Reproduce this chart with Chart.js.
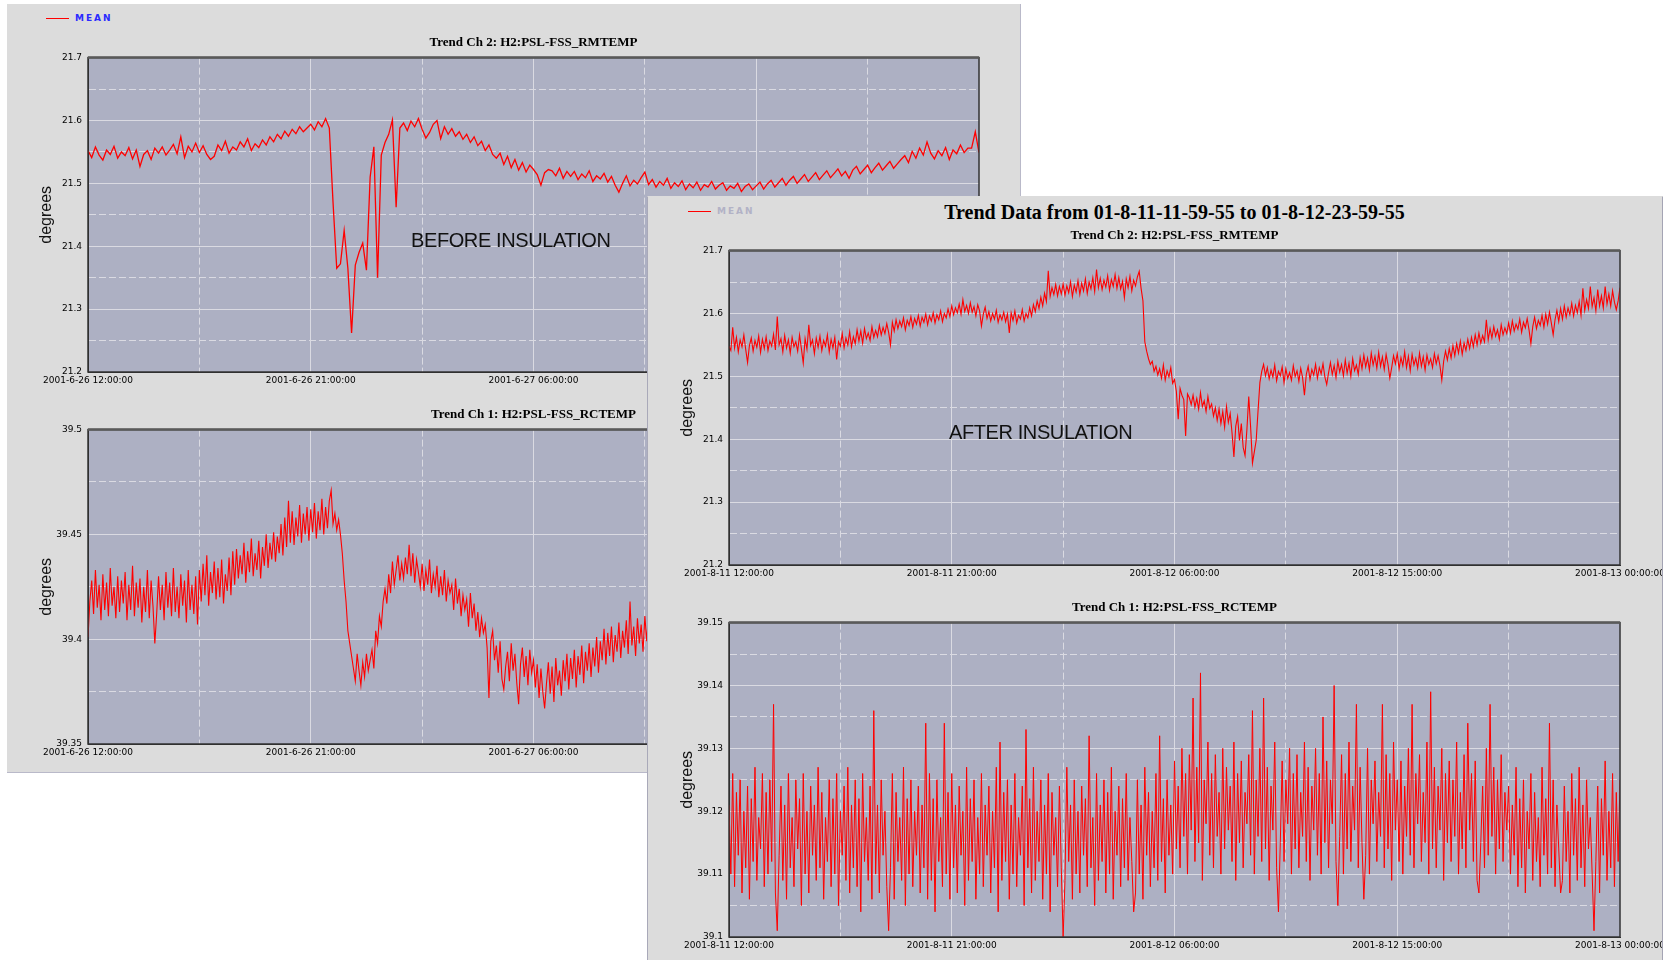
<!DOCTYPE html>
<html>
<head>
<meta charset="utf-8">
<script src="https://cdn.jsdelivr.net/npm/chart.js@4.4.1/dist/chart.umd.min.js"></script>
<style>
html, body { margin: 0; padding: 0; background: #fff; width: 1663px; height: 960px; overflow: hidden; }
.panel { position: absolute; background: #dcdcdc; overflow: hidden; }
#back { left: 7px; top: 4px; width: 1013px; height: 768px; border-right: 1px solid #b9b9c9; border-bottom: 1px solid #b9b9c9; }
#front { left: 647px; top: 196px; width: 1014px; height: 764px; border-left: 1px solid #a9a9b9; border-right: 2px solid #a4a4b4; border-top: 1px solid #dcdcdc; }
.panel canvas { position: absolute; left: 0; }
.top { top: 20px; }
.bot { top: 392px; }
.legend { position: absolute; left: 39px; top: 9px; height: 12px; padding-left: 29px; line-height: 12px; font: bold 9px "DejaVu Sans"; letter-spacing: 2px; }
.legend i { position: absolute; left: 0; top: 5px; width: 23px; height: 1px; background: #f00; }
.note { position: absolute; font: 20px "Liberation Sans"; line-height: 23px; letter-spacing: -0.4px; color: #111; }
.main { position: absolute; left: 81px; width: 891px; top: 4px; line-height: 23px; text-align: center; font: bold 20px "Liberation Serif"; color: #000; }
</style>
</head>
<body>
<div class="panel" id="back">
  <div class="legend" style="color:#2a2aff"><i></i>MEAN</div>
  <canvas id="bTop" class="top" width="1040" height="368"></canvas>
  <canvas id="bBot" class="bot" width="1040" height="368"></canvas>
  <div class="note" style="left:404px;top:225px">BEFORE INSULATION</div>
</div>
<div class="panel" id="front">
  <div class="legend" style="color:#b2b2c6;left:40px"><i></i>MEAN</div>
  <div class="main">Trend Data from 01-8-11-11-59-55 to 01-8-12-23-59-55</div>
  <canvas id="fTop" class="top" width="1040" height="368"></canvas>
  <canvas id="fBot" class="bot" width="1040" height="368"></canvas>
  <div class="note" style="left:301px;top:224px">AFTER INSULATION</div>
</div>
<script>
// hours between samples, 36 hour window
const STEP_H = 0.15;
const STEP_FINE_H = 0.075;
const SPAN_H = 36;

const beforeTimes = ['2001-6-26 12:00:00', '2001-6-26 21:00:00', '2001-6-27 06:00:00', '2001-6-27 15:00:00', '2001-6-28 00:00:00'];
const afterTimes = ['2001-8-11 12:00:00', '2001-8-11 21:00:00', '2001-8-12 06:00:00', '2001-8-12 15:00:00', '2001-8-13 00:00:00'];

// Ch 2 RMTEMP, before insulation (June), STEP_H
const rmBefore = [
  21.552, 21.541, 21.558, 21.545, 21.537, 21.553, 21.546, 21.559, 21.540, 21.550,
  21.544, 21.557, 21.539, 21.553, 21.527, 21.546, 21.552, 21.538, 21.556, 21.548,
  21.558, 21.545, 21.553, 21.562, 21.547, 21.574, 21.541, 21.559, 21.550, 21.564,
  21.549, 21.560, 21.546, 21.538, 21.543, 21.561, 21.552, 21.567, 21.548, 21.558,
  21.553, 21.566, 21.558, 21.571, 21.552, 21.563, 21.557, 21.569, 21.561, 21.574,
  21.566, 21.578, 21.571, 21.583, 21.575, 21.586, 21.579, 21.590, 21.582, 21.588,
  21.594, 21.585, 21.598, 21.590, 21.603, 21.588, 21.470, 21.365, 21.372, 21.425,
  21.365, 21.262, 21.370, 21.390, 21.405, 21.362, 21.510, 21.558, 21.350, 21.545,
  21.565, 21.578, 21.601, 21.462, 21.588, 21.596, 21.584, 21.599, 21.590, 21.603,
  21.586, 21.572, 21.581, 21.594, 21.600, 21.571, 21.590, 21.578, 21.587, 21.575,
  21.582, 21.570, 21.578, 21.565, 21.574, 21.560, 21.567, 21.552, 21.561, 21.546,
  21.540, 21.548, 21.530, 21.543, 21.525, 21.538, 21.521, 21.533, 21.518, 21.529,
  21.522, 21.514, 21.497, 21.517, 21.522, 21.520, 21.512, 21.524, 21.508, 21.519,
  21.511, 21.519, 21.506, 21.515, 21.509, 21.520, 21.503, 21.512, 21.507, 21.516,
  21.502, 21.511, 21.497, 21.486, 21.500, 21.512, 21.496, 21.505, 21.499, 21.509,
  21.518, 21.498, 21.506, 21.494, 21.503, 21.497, 21.508, 21.492, 21.501, 21.495,
  21.504, 21.490, 21.499, 21.493, 21.502, 21.489, 21.498, 21.494, 21.503, 21.491,
  21.497, 21.501, 21.489, 21.496, 21.492, 21.500, 21.487, 21.495, 21.499, 21.490,
  21.496, 21.502, 21.491, 21.499, 21.505, 21.494, 21.501, 21.508, 21.497, 21.505,
  21.511, 21.500, 21.507, 21.514, 21.503, 21.510, 21.517, 21.506, 21.513, 21.520,
  21.509, 21.516, 21.523, 21.512, 21.519, 21.508, 21.521, 21.527, 21.515, 21.522,
  21.529, 21.517, 21.525, 21.532, 21.521, 21.528, 21.535, 21.524, 21.531, 21.538,
  21.544, 21.533, 21.551, 21.540, 21.556, 21.545, 21.566, 21.548, 21.539, 21.552,
  21.544, 21.557, 21.538, 21.553, 21.547, 21.561, 21.549, 21.556, 21.556, 21.582,
  21.549
];

// Ch 1 RCTEMP, before insulation, STEP_FINE_H (only the uncovered part is read)
const rcBefore = [
  39.401, 39.418, 39.428, 39.412, 39.433, 39.415, 39.426, 39.409, 39.431, 39.414,
  39.427, 39.411, 39.434, 39.416, 39.425, 39.410, 39.430, 39.413, 39.428, 39.417,
  39.432, 39.409, 39.426, 39.414, 39.435, 39.411, 39.427, 39.415, 39.429, 39.408,
  39.425, 39.413, 39.433, 39.410, 39.428, 39.416, 39.398, 39.412, 39.430, 39.414,
  39.426, 39.409, 39.432, 39.415, 39.427, 39.411, 39.434, 39.413, 39.425, 39.410,
  39.431, 39.416, 39.428, 39.408, 39.433, 39.414, 39.426, 39.412, 39.430, 39.407,
  39.433, 39.418, 39.436, 39.421, 39.440, 39.416, 39.432, 39.422, 39.437, 39.419,
  39.434, 39.420, 39.438, 39.417, 39.431, 39.423, 39.439, 39.421, 39.442, 39.426,
  39.443, 39.429, 39.440, 39.431, 39.446, 39.427, 39.442, 39.432, 39.448, 39.430,
  39.441, 39.433, 39.447, 39.429, 39.444, 39.435, 39.450, 39.434, 39.446, 39.438,
  39.451, 39.437, 39.449, 39.441, 39.455, 39.440, 39.458, 39.444, 39.466, 39.446,
  39.461, 39.445, 39.458, 39.449, 39.464, 39.446, 39.460, 39.450, 39.463, 39.447,
  39.462, 39.451, 39.465, 39.448, 39.461, 39.452, 39.467, 39.450, 39.463, 39.453,
  39.466, 39.471, 39.455, 39.460, 39.452, 39.457, 39.450, 39.441, 39.428, 39.418,
  39.404, 39.398, 39.392, 39.386, 39.380, 39.393, 39.385, 39.378, 39.389, 39.382,
  39.393, 39.385, 39.390, 39.395, 39.386, 39.404, 39.398, 39.411, 39.406, 39.418,
  39.424, 39.417, 39.431, 39.422, 39.437, 39.426, 39.433, 39.440, 39.428, 39.436,
  39.429, 39.439, 39.431, 39.445, 39.430, 39.441, 39.427, 39.438, 39.432, 39.425,
  39.436, 39.423, 39.433, 39.426, 39.438, 39.422, 39.431, 39.425, 39.435, 39.420,
  39.430, 39.421, 39.433, 39.418, 39.428, 39.422, 39.426, 39.414, 39.429, 39.417,
  39.424, 39.411, 39.421, 39.414, 39.419, 39.406, 39.422, 39.410, 39.417, 39.404,
  39.413, 39.401, 39.410, 39.403, 39.407, 39.396, 39.372, 39.399, 39.404, 39.390,
  39.397, 39.384, 39.399, 39.381, 39.376, 39.387, 39.394, 39.380, 39.398, 39.385,
  39.393, 39.379, 39.369, 39.388, 39.396, 39.382, 39.392, 39.378, 39.395, 39.384,
  39.390, 39.377, 39.388, 39.372, 39.386, 39.375, 39.367, 39.379, 39.389, 39.374,
  39.387, 39.370, 39.391, 39.378, 39.385, 39.373, 39.390, 39.380, 39.393, 39.376,
  39.391, 39.381, 39.395, 39.377, 39.392, 39.383, 39.397, 39.379, 39.394, 39.385,
  39.398, 39.382, 39.396, 39.387, 39.401, 39.384, 39.399, 39.390, 39.405, 39.388,
  39.403, 39.392, 39.406, 39.389, 39.402, 39.394, 39.408, 39.391, 39.404, 39.396,
  39.409, 39.393, 39.418, 39.397, 39.406, 39.392, 39.410, 39.398, 39.407, 39.394,
  39.411, 39.399, 39.413, 39.396, 39.409, 39.401, 39.414, 39.398, 39.410, 39.402,
  39.408
];

// Ch 2 RMTEMP, after insulation (August), STEP_FINE_H
const rmAfter = [
  21.548, 21.541, 21.578, 21.545, 21.562, 21.539, 21.558, 21.547, 21.566, 21.543,
  21.522, 21.549, 21.561, 21.540, 21.557, 21.546, 21.564, 21.538, 21.559, 21.544,
  21.563, 21.541, 21.556, 21.548, 21.567, 21.542, 21.595, 21.550, 21.560, 21.539,
  21.565, 21.545, 21.558, 21.537, 21.562, 21.547, 21.555, 21.540, 21.566, 21.544,
  21.521, 21.560, 21.543, 21.582, 21.549, 21.558, 21.536, 21.561, 21.546, 21.564,
  21.541, 21.557, 21.548, 21.566, 21.539, 21.559, 21.545, 21.562, 21.527, 21.555,
  21.548, 21.568, 21.545, 21.561, 21.550, 21.571, 21.547, 21.563, 21.552, 21.574,
  21.556, 21.572, 21.553, 21.576, 21.560, 21.569, 21.557, 21.579, 21.562, 21.573,
  21.563, 21.581, 21.566, 21.578, 21.568, 21.584, 21.570, 21.550, 21.586, 21.572,
  21.590, 21.576, 21.588, 21.579, 21.593, 21.574, 21.589, 21.581, 21.595, 21.578,
  21.592, 21.583, 21.597, 21.580, 21.594, 21.586, 21.599, 21.582, 21.596, 21.588,
  21.601, 21.585, 21.598, 21.590, 21.604, 21.587, 21.600, 21.593, 21.607, 21.595,
  21.612, 21.598, 21.609, 21.601, 21.615, 21.599, 21.622, 21.603, 21.613, 21.600,
  21.617, 21.602, 21.611, 21.596, 21.614, 21.604, 21.580, 21.599, 21.610, 21.592,
  21.603, 21.588, 21.600, 21.591, 21.605, 21.586, 21.598, 21.590, 21.602, 21.587,
  21.599, 21.569, 21.601, 21.589, 21.604, 21.585, 21.597, 21.591, 21.606, 21.588,
  21.600, 21.593, 21.609, 21.596, 21.614, 21.603, 21.620, 21.608, 21.626, 21.612,
  21.632, 21.619, 21.668, 21.627, 21.641, 21.630, 21.646, 21.628, 21.643, 21.631,
  21.647, 21.629, 21.644, 21.633, 21.650, 21.627, 21.645, 21.634, 21.652, 21.630,
  21.648, 21.636, 21.655, 21.632, 21.650, 21.639, 21.657, 21.635, 21.670, 21.641,
  21.656, 21.638, 21.653, 21.642, 21.660, 21.637, 21.654, 21.643, 21.662, 21.640,
  21.657, 21.639, 21.651, 21.625, 21.655, 21.641, 21.659, 21.636, 21.653, 21.644,
  21.658, 21.667, 21.640, 21.620, 21.555, 21.540, 21.528, 21.519, 21.524, 21.508,
  21.516, 21.502, 21.512, 21.497, 21.518, 21.494, 21.509, 21.499, 21.514, 21.489,
  21.495, 21.476, 21.432, 21.481, 21.470, 21.463, 21.405, 21.472, 21.466, 21.455,
  21.470, 21.451, 21.465, 21.448, 21.474, 21.452, 21.461, 21.444, 21.468, 21.449,
  21.456, 21.437, 21.450, 21.430, 21.448, 21.425, 21.444, 21.419, 21.452, 21.427,
  21.441, 21.410, 21.372, 21.421, 21.436, 21.398, 21.425, 21.387, 21.374, 21.415,
  21.468, 21.420, 21.362, 21.380, 21.398, 21.445, 21.490, 21.508, 21.519, 21.501,
  21.514, 21.496, 21.510, 21.499, 21.518, 21.493, 21.508, 21.501, 21.515, 21.490,
  21.512, 21.497, 21.506, 21.494, 21.517, 21.500, 21.509, 21.492, 21.513, 21.498,
  21.470, 21.503, 21.516, 21.495, 21.511, 21.502, 21.519, 21.497, 21.514, 21.504,
  21.520, 21.499, 21.487, 21.506, 21.522, 21.503, 21.517, 21.498, 21.524, 21.507,
  21.519, 21.501, 21.526, 21.505, 21.521, 21.500, 21.528, 21.509, 21.518, 21.503,
  21.530, 21.512, 21.534, 21.515, 21.529, 21.510, 21.537, 21.518, 21.532, 21.513,
  21.538, 21.516, 21.531, 21.511, 21.535, 21.519, 21.497, 21.514, 21.533, 21.520,
  21.536, 21.512, 21.530, 21.517, 21.539, 21.514, 21.532, 21.509, 21.535, 21.518,
  21.529, 21.513, 21.537, 21.516, 21.531, 21.510, 21.534, 21.519, 21.528, 21.514,
  21.536, 21.520, 21.533, 21.517, 21.494, 21.524, 21.540, 21.526, 21.544, 21.529,
  21.549, 21.533, 21.552, 21.537, 21.556, 21.535, 21.553, 21.541, 21.559, 21.544,
  21.562, 21.547, 21.566, 21.550, 21.569, 21.553, 21.565, 21.555, 21.590, 21.558,
  21.576, 21.561, 21.579, 21.564, 21.574, 21.559, 21.582, 21.566, 21.577, 21.568,
  21.585, 21.569, 21.588, 21.572, 21.583, 21.575, 21.591, 21.570, 21.586, 21.577,
  21.592, 21.574, 21.552, 21.579, 21.594, 21.576, 21.589, 21.581, 21.597, 21.578,
  21.599, 21.583, 21.602, 21.585, 21.566, 21.590, 21.605, 21.587, 21.608, 21.591,
  21.612, 21.594, 21.609, 21.598, 21.616, 21.596, 21.613, 21.601, 21.619, 21.597,
  21.640, 21.605, 21.622, 21.608, 21.643, 21.611, 21.625, 21.604, 21.638, 21.612,
  21.628, 21.609, 21.643, 21.615, 21.631, 21.612, 21.636, 21.618, 21.606, 21.620,
  21.641
];

// Ch 1 RCTEMP, after insulation, STEP_FINE_H
const rcAfter = [
  39.121, 39.110, 39.126, 39.108, 39.123, 39.113, 39.125, 39.107, 39.120, 39.111,
  39.124, 39.106, 39.122, 39.112, 39.127, 39.109, 39.119, 39.114, 39.126, 39.108,
  39.123, 39.110, 39.125, 39.112, 39.137, 39.107, 39.101, 39.113, 39.124, 39.109,
  39.121, 39.106, 39.126, 39.111, 39.119, 39.108, 39.125, 39.114, 39.122, 39.105,
  39.126, 39.110, 39.120, 39.107, 39.124, 39.113, 39.121, 39.109, 39.127, 39.111,
  39.123, 39.106, 39.119, 39.112, 39.125, 39.108, 39.122, 39.110, 39.126, 39.105,
  39.120, 39.113, 39.124, 39.109, 39.127, 39.107, 39.121, 39.111, 39.125, 39.108,
  39.122, 39.104, 39.126, 39.112, 39.119, 39.109, 39.124, 39.106, 39.136, 39.110,
  39.121, 39.107, 39.125, 39.113, 39.120, 39.108, 39.101, 39.111, 39.126, 39.106,
  39.123, 39.112, 39.119, 39.109, 39.127, 39.105, 39.122, 39.110, 39.125, 39.108,
  39.120, 39.113, 39.124, 39.107, 39.121, 39.111, 39.134, 39.106, 39.126, 39.109,
  39.122, 39.104, 39.125, 39.112, 39.119, 39.108, 39.134, 39.110, 39.123, 39.106,
  39.126, 39.111, 39.121, 39.107, 39.124, 39.113, 39.120, 39.105, 39.127, 39.109,
  39.122, 39.112, 39.125, 39.106, 39.119, 39.110, 39.126, 39.108, 39.121, 39.113,
  39.124, 39.107, 39.120, 39.111, 39.127, 39.104, 39.131, 39.109, 39.123, 39.112,
  39.125, 39.106, 39.121, 39.110, 39.126, 39.108, 39.119, 39.113, 39.124, 39.105,
  39.133, 39.111, 39.122, 39.107, 39.127, 39.109, 39.120, 39.112, 39.125, 39.106,
  39.121, 39.110, 39.126, 39.104, 39.123, 39.113, 39.119, 39.108, 39.124, 39.111,
  39.100, 39.109, 39.127, 39.112, 39.121, 39.106, 39.125, 39.110, 39.120, 39.107,
  39.124, 39.113, 39.122, 39.108, 39.132, 39.111, 39.119, 39.105, 39.126, 39.109,
  39.121, 39.112, 39.125, 39.107, 39.123, 39.110, 39.127, 39.106, 39.120, 39.113,
  39.124, 39.108, 39.122, 39.111, 39.126, 39.109, 39.119, 39.112, 39.104, 39.107,
  39.125, 39.110, 39.121, 39.106, 39.127, 39.113, 39.123, 39.108, 39.120, 39.111,
  39.126, 39.109, 39.132, 39.112, 39.122, 39.107, 39.125, 39.113, 39.121, 39.110,
  39.128, 39.114, 39.124, 39.111, 39.130, 39.116, 39.126, 39.110, 39.129, 39.117,
  39.138, 39.112, 39.127, 39.115, 39.142, 39.109, 39.125, 39.118, 39.131, 39.113,
  39.126, 39.111, 39.129, 39.116, 39.123, 39.110, 39.130, 39.114, 39.127, 39.117,
  39.124, 39.112, 39.131, 39.109, 39.126, 39.115, 39.128, 39.111, 39.123, 39.118,
  39.129, 39.113, 39.136, 39.110, 39.125, 39.116, 39.130, 39.112, 39.138, 39.114,
  39.127, 39.109, 39.124, 39.117, 39.131, 39.111, 39.104, 39.115, 39.128, 39.112,
  39.125, 39.118, 39.130, 39.110, 39.126, 39.114, 39.129, 39.111, 39.123, 39.116,
  39.131, 39.112, 39.127, 39.109, 39.124, 39.117, 39.130, 39.113, 39.126, 39.110,
  39.135, 39.115, 39.128, 39.111, 39.125, 39.118, 39.140, 39.112, 39.105, 39.116,
  39.129, 39.110, 39.126, 39.114, 39.131, 39.112, 39.124, 39.117, 39.137, 39.111,
  39.127, 39.115, 39.106, 39.113, 39.130, 39.110, 39.125, 39.118, 39.128, 39.112,
  39.123, 39.116, 39.137, 39.111, 39.129, 39.114, 39.126, 39.109, 39.131, 39.117,
  39.125, 39.112, 39.128, 39.110, 39.124, 39.116, 39.130, 39.113, 39.137, 39.111,
  39.126, 39.118, 39.129, 39.112, 39.123, 39.115, 39.131, 39.110, 39.139, 39.114,
  39.127, 39.111, 39.124, 39.117, 39.130, 39.109, 39.126, 39.115, 39.128, 39.112,
  39.125, 39.116, 39.131, 39.110, 39.123, 39.114, 39.129, 39.111, 39.134, 39.117,
  39.126, 39.112, 39.128, 39.109, 39.107, 39.115, 39.124, 39.111, 39.130, 39.113,
  39.137, 39.116, 39.127, 39.110, 39.125, 39.114, 39.129, 39.112, 39.123, 39.117,
  39.124, 39.110, 39.121, 39.113, 39.127, 39.108, 39.122, 39.111, 39.125, 39.107,
  39.120, 39.114, 39.126, 39.109, 39.123, 39.112, 39.119, 39.108, 39.127, 39.113,
  39.122, 39.110, 39.134, 39.111, 39.125, 39.108, 39.121, 39.114, 39.107, 39.109,
  39.124, 39.112, 39.120, 39.107, 39.126, 39.113, 39.122, 39.109, 39.127, 39.111,
  39.121, 39.108, 39.125, 39.114, 39.119, 39.110, 39.101, 39.112, 39.124, 39.107,
  39.122, 39.113, 39.128, 39.109, 39.120, 39.111, 39.126, 39.108, 39.123, 39.112,
  39.125
];

const PLOT_BG = '#adb0c3';
const GRID_COLOR = '#dadae2';
const LINE_RED = '#ff0000';
const tickFont = { family: 'DejaVu Sans', size: 9 };

// grey plot background and dark frame round the chart area
const plotFrame = {
  id: 'plotFrame',
  beforeDraw(chart) {
    const a = chart.chartArea, ctx = chart.ctx;
    ctx.save();
    ctx.fillStyle = PLOT_BG;
    ctx.fillRect(a.left, a.top, a.width, a.height);
    ctx.restore();
  },
  afterDatasetsDraw(chart) {
    const a = chart.chartArea, ctx = chart.ctx;
    ctx.save();
    ctx.strokeStyle = '#333';
    ctx.lineWidth = 1.5;
    ctx.strokeRect(a.left, a.top, a.width, a.height);
    ctx.strokeStyle = '#5a5a5a';
    ctx.lineWidth = 2.5;
    ctx.beginPath();
    ctx.moveTo(a.left, a.top);
    ctx.lineTo(a.right, a.top);
    ctx.stroke();
    ctx.restore();
  }
};

// every other grid line is dashed
const gridOpts = { color: GRID_COLOR, lineWidth: 1, drawTicks: false };
const borderOpts = { display: true, color: '#2a2a2a', width: 1, dash: (c) => (c.index % 2 === 1 ? [7, 3] : []) };

function trendChart(id, title, values, step, lineW, yMin, yMax, yStep, timeLabels) {
  const points = values.map((v, i) => ({ x: i * step, y: v }));
  return new Chart(document.getElementById(id), {
    type: 'line',
    data: {
      datasets: [{
        label: 'MEAN',
        data: points,
        borderColor: LINE_RED,
        borderWidth: lineW,
        pointRadius: 0,
        tension: 0
      }]
    },
    options: {
      responsive: false,
      animation: false,
      devicePixelRatio: 1,
      layout: { padding: { left: 0, right: 68, top: 0, bottom: 0 } },
      plugins: {
        legend: { display: false },
        tooltip: { enabled: false },
        title: {
          display: true,
          fullSize: false,
          text: title,
          color: '#000',
          font: { family: 'Liberation Serif', size: 13, weight: 'bold' },
          padding: { top: 11, bottom: 7 }
        }
      },
      scales: {
        x: {
          type: 'linear',
          min: 0,
          max: SPAN_H,
          afterFit: (s) => { s.height = 20; },
          ticks: {
            stepSize: 4.5,
            autoSkip: false,
            maxRotation: 0,
            minRotation: 0,
            padding: 3,
            color: '#000',
            font: tickFont,
            callback: (v, i) => (i % 2 === 0 ? timeLabels[i / 2] : '')
          },
          grid: gridOpts,
          border: borderOpts
        },
        y: {
          min: yMin,
          max: yMax,
          afterFit: (s) => { s.width = 81; },
          ticks: {
            stepSize: yStep,
            autoSkip: false,
            padding: 6,
            color: '#000',
            font: tickFont,
            callback: (v, i) => (i % 2 === 0 ? String(+v.toFixed(3)) : '')
          },
          title: {
            display: true,
            text: 'degrees',
            color: '#111',
            font: { family: 'Liberation Sans', size: 16 },
            padding: { top: 30, bottom: 0 }
          },
          grid: gridOpts,
          border: borderOpts
        }
      }
    },
    plugins: [plotFrame]
  });
}

trendChart('bTop', 'Trend Ch 2: H2:PSL-FSS_RMTEMP', rmBefore, STEP_H, 1.3, 21.2, 21.7, 0.05, beforeTimes);
trendChart('bBot', 'Trend Ch 1: H2:PSL-FSS_RCTEMP', rcBefore, STEP_FINE_H, 1.1, 39.35, 39.5, 0.025, beforeTimes);
trendChart('fTop', 'Trend Ch 2: H2:PSL-FSS_RMTEMP', rmAfter, STEP_FINE_H, 1.1, 21.2, 21.7, 0.05, afterTimes);
trendChart('fBot', 'Trend Ch 1: H2:PSL-FSS_RCTEMP', rcAfter, STEP_FINE_H, 1, 39.1, 39.15, 0.005, afterTimes);
</script>
</body>
</html>
